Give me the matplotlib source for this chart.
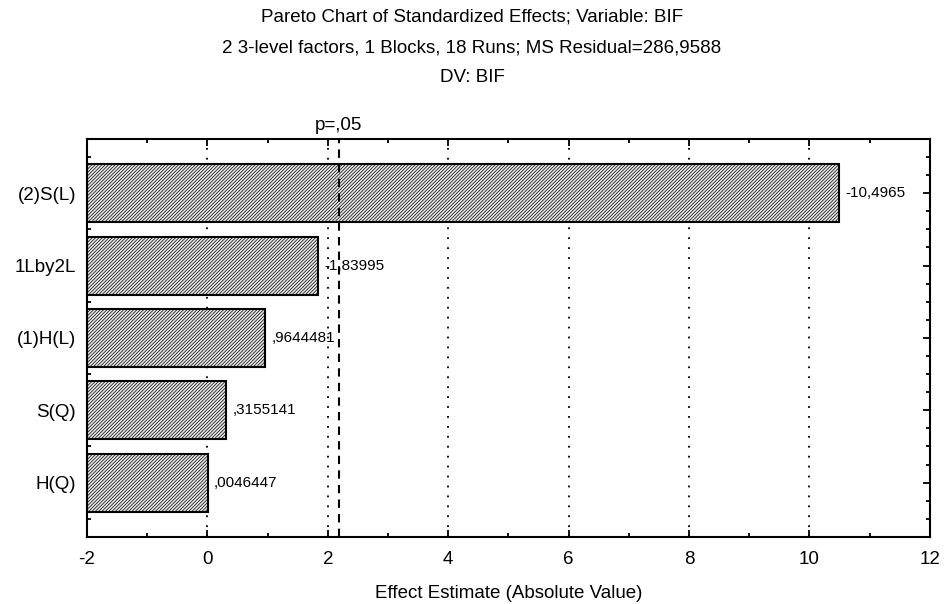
import matplotlib
matplotlib.use("Agg")
import matplotlib.pyplot as plt
from matplotlib.ticker import MultipleLocator

plt.rcParams['font.family'] = ['Liberation Sans', 'DejaVu Sans']
plt.rcParams['hatch.linewidth'] = 0.5
plt.rcParams['hatch.color'] = '#8a8a8a'

factors = ["(2)S(L)", "1Lby2L", "(1)H(L)", "S(Q)", "H(Q)"]
effects = [-10.4965, -1.83995, 0.9644481, 0.3155141, 0.0046447]
p_label = "p=,05"
t_crit = 2.178813
x_ticks = [-2, 0, 2, 4, 6, 8, 10, 12]
grid_x = [0, 2, 4, 6, 8, 10]

def stat_fmt(v):
    s = str(v)
    s = s.replace("-0.", "-.").replace("0.", ".") if abs(v) < 1 else s
    return s.replace(".", ",")

FS = 13.5

fig = plt.figure(figsize=(9.44, 6.04), dpi=100)
ax = fig.add_axes([0.0922, 0.111, 0.8928, 0.659])

xmin = -2
ys = list(range(len(factors)))
absvals = [abs(v) for v in effects]
ax.barh(ys, [a - xmin for a in absvals], left=xmin, height=0.8,
        facecolor='#e8e8e8', edgecolor='black', linewidth=1.5, hatch='//////////', zorder=2)

for gx in grid_x:
    ax.axvline(gx, color='black', linestyle=(0, (1, 4.5)), linewidth=1.3, zorder=1)
ax.axvline(t_crit, color='black', linestyle=(0, (4, 3)), linewidth=1.5, zorder=3)
ax.text(t_crit, 1.012, p_label, transform=ax.get_xaxis_transform(),
        ha='center', va='bottom', fontsize=FS)

for y, a, v in zip(ys, absvals, effects):
    ax.text(a + 0.1, y, stat_fmt(v), va='center', ha='left', fontsize=11, zorder=4)

ax.set_xlim(-2, 12)
ax.set_ylim(len(factors) - 0.25, -0.75)
ax.set_xticks(x_ticks)
ax.set_xticklabels([str(t) for t in x_ticks])
ax.xaxis.set_minor_locator(MultipleLocator(1))
ax.set_yticks(ys)
ax.set_yticklabels(factors)
ax.yaxis.set_minor_locator(MultipleLocator(0.25))
ax.tick_params(axis='both', which='major', direction='in', length=5, width=1.3,
               top=True, right=True, labelsize=FS)
ax.tick_params(axis='both', which='minor', direction='in', length=3, width=1.3,
               top=True, right=True)
ax.tick_params(axis='x', pad=10)
ax.tick_params(axis='y', pad=8)
for sp in ax.spines.values():
    sp.set_linewidth(1.5)

ax.set_xlabel("Effect Estimate (Absolute Value)", fontsize=FS, labelpad=12)

fig.text(0.5, 1 - 17 / 604, "Pareto Chart of Standardized Effects; Variable: BIF",
         ha='center', va='center', fontsize=FS)
fig.text(0.5, 1 - 48 / 604, "2 3-level factors, 1 Blocks, 18 Runs; MS Residual=286,9588",
         ha='center', va='center', fontsize=FS)
fig.text(0.5, 1 - 78 / 604, "DV: BIF", ha='center', va='center', fontsize=FS)

fig.savefig("out.png", dpi=100)
